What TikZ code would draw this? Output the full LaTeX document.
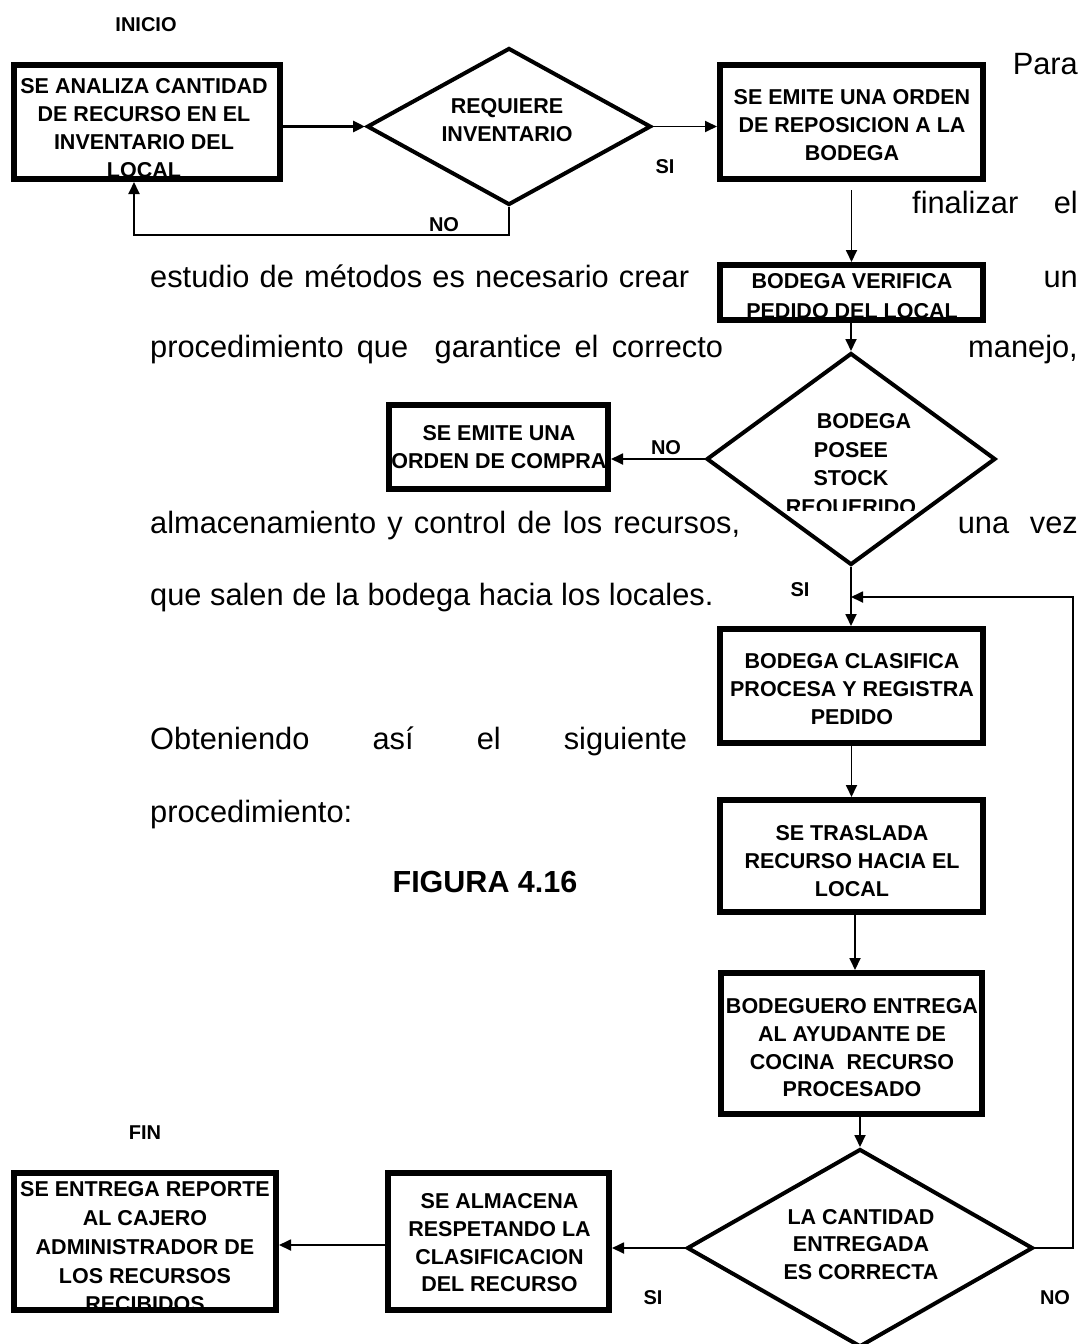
\documentclass[tikz,border=0pt]{standalone}
\usepackage{fontspec}
\setmainfont{Liberation Sans}
\usetikzlibrary{shapes.geometric,arrows.meta}

% text sizes
\newcommand\flowtxt{\fontsize{21.5}{28}\selectfont\bfseries}
\newcommand\flowtxtsp[1]{\fontsize{21.5}{#1}\selectfont\bfseries}
\newcommand\bodytxt{\fontsize{30.8}{36}\selectfont}
\newcommand\lbltxt{\fontsize{20}{24}\selectfont\bfseries}
\newcommand\figtxt{\fontsize{30.5}{36}\selectfont\bfseries}

\begin{document}
\begin{tikzpicture}[x=1pt,y=-1pt,
  procbox/.style={draw, rectangle, line width=6pt, inner sep=0pt},
  decision/.style={draw, diamond, line width=4pt, inner sep=0pt},
  boxtext/.style={font=\flowtxt, align=center, inner sep=0pt, anchor=north},
  lbl/.style={font=\lbltxt, inner sep=0pt},
  body/.style={font=\bodytxt, inner sep=0pt},
  flow/.style={line width=1.8pt, -{Triangle[length=12pt,width=11pt]}},
  flowthick/.style={line width=3.5pt, -{Triangle[length=12pt,width=11pt]}}
]
\fill[white] (0,0) rectangle (1085,1344);
\useasboundingbox (0,0) rectangle (1085,1344);

% ---------- running text of the page ----------
\node[body, anchor=base east] (p1) at (1078,74) {Para};
\node[body, anchor=base west] (p2a) at (912,213) {finalizar};
\node[body, anchor=base east] (p2b) at (1078,213) {el};
\node[body, anchor=base west] (p3a) at (150,287) {\makebox[539pt][s]{estudio de métodos es necesario crear}};
\node[body, anchor=base east] (p3b) at (1078,287) {un};
\node[body, anchor=base west] (p4a) at (150,357) {\makebox[573pt][s]{procedimiento que\ \ garantice el correcto}};
\node[body, anchor=base east] (p4b) at (1078,357) {manejo,};
\node[body, anchor=base west] (p5a) at (150,533) {\makebox[590pt][s]{almacenamiento y control de los recursos,}};
\node[body, anchor=base east] (p5b) at (1078,533) {\makebox[120pt][s]{una vez}};
\node[body, anchor=base west] (p6) at (150,605) {que salen de la bodega hacia los locales.};
\node[body, anchor=base west] (p7) at (150,749) {\makebox[537pt][s]{Obteniendo así el siguiente}};
\node[body, anchor=base west] (p8) at (150,822) {procedimiento:};
\node[font=\figtxt, inner sep=0pt, anchor=base] (fig) at (485,892) {FIGURA 4.16};

% ---------- texts of the flowchart ----------
\node[boxtext] (t1) at (144,78.3) {SE ANALIZA CANTIDAD\\DE RECURSO EN EL\\INVENTARIO DEL\\LOCAL};
\node[boxtext, font={\flowtxtsp{27.7}}] (q1) at (507,98.3) {REQUIERE\\INVENTARIO};
\node[boxtext, font={\flowtxtsp{28.2}}] (t2) at (852,89.3) {SE EMITE UNA ORDEN\\DE REPOSICION A LA\\BODEGA};
\node[boxtext, font={\flowtxtsp{30}}] (t3) at (852,273) {BODEGA VERIFICA\\PEDIDO DEL LOCAL};
\begin{scope}
  \clip (690,400) rectangle (1010,510);
  \node[boxtext, font={\flowtxtsp{28.6}}] (q2) at (851,413.4) {\hspace*{26pt}BODEGA\\POSEE\\STOCK\\REQUERIDO};
\end{scope}
\node[boxtext, font={\flowtxtsp{28.7}}] (t4) at (499,425) {SE EMITE UNA\\ORDEN DE COMPRA};
\node[boxtext] (t5) at (852,653.3) {BODEGA CLASIFICA\\PROCESA Y REGISTRA\\PEDIDO};
\node[boxtext] (t6) at (852,825) {SE TRASLADA\\RECURSO HACIA EL\\LOCAL};
\node[boxtext, font={\flowtxtsp{27.9}}] (t7) at (852,998) {BODEGUERO ENTREGA\\AL AYUDANTE DE\\COCINA\ \ RECURSO\\PROCESADO};
\node[boxtext, font={\flowtxtsp{27.5}}] (q3) at (861,1209) {LA CANTIDAD\\ENTREGADA\\ES CORRECTA};
\node[boxtext, font={\flowtxtsp{27.9}}] (t9) at (499.5,1193) {SE ALMACENA\\RESPETANDO LA\\CLASIFICACION\\DEL RECURSO};
\node[boxtext, font={\flowtxtsp{28.7}}] (t8) at (145,1181.7) {SE ENTREGA REPORTE\\AL CAJERO\\ADMINISTRADOR DE\\LOS RECURSOS\\RECIBIDOS};

% ---------- frames ----------
\node[procbox, minimum width=266pt, minimum height=114pt] (b1) at (147,122) {};
\node[decision, minimum width=284pt, minimum height=157pt] (d1) at (509,126.5) {};
\node[procbox, minimum width=263pt, minimum height=114pt] (b2) at (851.5,122) {};
\node[procbox, minimum width=263pt, minimum height=55pt] (b3) at (851.5,292.5) {};
\node[decision, minimum width=289pt, minimum height=212pt] (d2) at (851,459) {};
\node[procbox, minimum width=219pt, minimum height=84pt] (b4) at (498.5,447) {};
\node[procbox, minimum width=263pt, minimum height=114pt] (b5) at (851.5,686) {};
\node[procbox, minimum width=263pt, minimum height=112pt] (b6) at (851.5,856) {};
\node[procbox, minimum width=261pt, minimum height=141pt] (b7) at (851.5,1043.5) {};
\node[decision, minimum width=346pt, minimum height=198pt] (d3) at (860,1248) {};
\node[procbox, minimum width=221pt, minimum height=137pt] (b9) at (498.5,1241.5) {};
\node[procbox, minimum width=262pt, minimum height=137pt] (b8) at (145,1241.5) {};

% ---------- labels ----------
\node[lbl] (inicio) at (146,25) {INICIO};
\node[lbl] (si1) at (665,167) {SI};
\node[lbl] (no1) at (444,225) {NO};
\node[lbl] (no2) at (666,448) {NO};
\node[lbl] (si2) at (800,590) {SI};
\node[lbl] (fin) at (145,1133) {FIN};
\node[lbl] (si3) at (653,1298) {SI};
\node[lbl] (no3) at (1055,1298) {NO};

% ---------- connectors ----------
\draw[flowthick] (b1.east |- d1.west) -- (d1.west);
\draw[flow] (d1.east) -- (d1.east -| b2.west);
\coordinate (c1) at (134,235);
\draw[flow] (d1.south) |- (c1) -- (c1 |- b1.south);
\draw[flow, shorten <=8pt] (b2.south) -- (b3.north);
\draw[flow] (d2.north |- b3.south) -- (d2.north);
\draw[flow] (d2.west) -- (d2.west -| b4.east);
\draw[flow] (d2.south) -- (d2.south |- b5.north);
\draw[flow] (b5.south) -- (b6.north);
\draw[flow] ([xshift=3.5pt]b6.south) -- ([xshift=3.5pt]b7.north);
\draw[flow] (d3.north |- b7.south) -- (d3.north);
\draw[flow] (d3.west) -- (d3.west -| b9.east);
\coordinate (a9) at ([yshift=-3.5pt]b9.west);
\draw[flow] (a9) -- (a9 -| b8.east);
\coordinate (c2) at (1073,597);
\draw[flow] (d3.east) -| (c2) -- (c2 -| d2.south);
\end{tikzpicture}
\end{document}
